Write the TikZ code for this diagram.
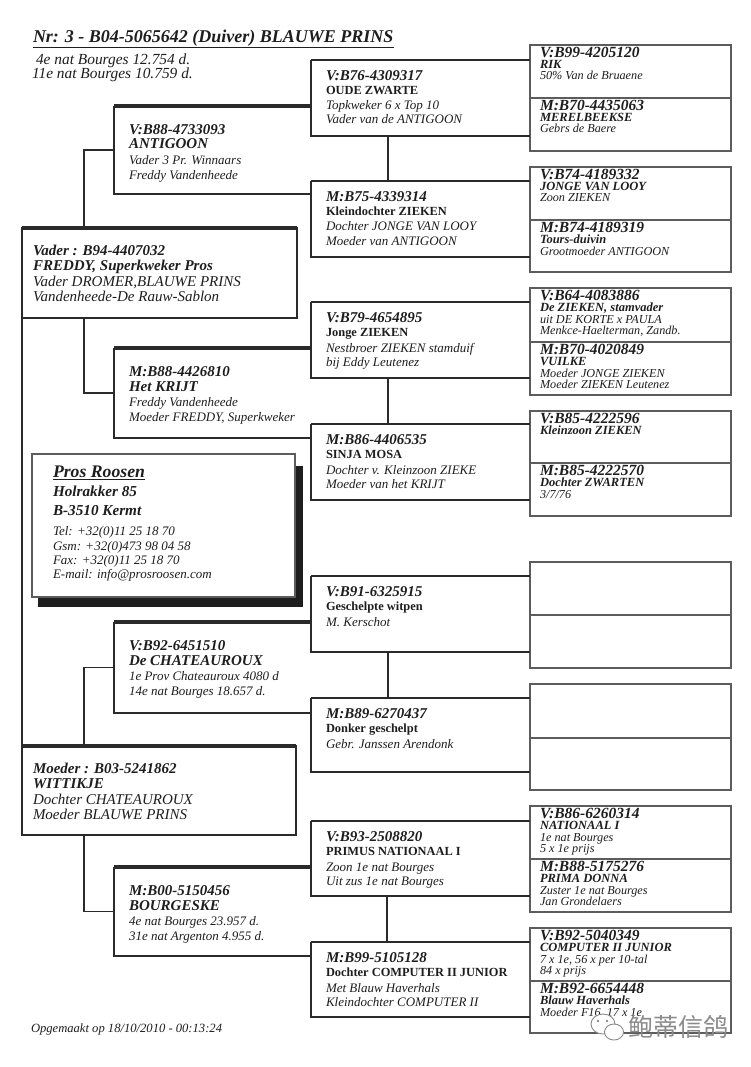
\documentclass[tikz,border=0pt]{standalone}
\usepackage{fontspec}
\setmainfont{Liberation Serif}
\newfontfamily\cjkfont{Noto Sans CJK SC}
\definecolor{ink}{HTML}{1E1E1E}
\definecolor{lineink}{HTML}{2A2A2A}
\definecolor{boxgray}{HTML}{5C5C5C}
\definecolor{wmgray}{HTML}{8A8A8A}
\newcommand\fsz[1]{\fontsize{#1}{#1}\selectfont}
\tikzset{
  every node/.style={inner sep=0pt, outer sep=0pt},
  txt/.style={anchor=base west, text=ink},
  fBI/.style={txt, font=\fsz{#1}\bfseries\itshape},
  fI/.style={txt, font=\fsz{#1}\itshape},
  fB/.style={txt, font=\fsz{#1}\bfseries},
  thinl/.style={draw=lineink, line width=1.2pt},
  gfour/.style={draw=boxgray, line width=1.1pt},
}
\newcommand\bx[6][]{\node[anchor=north west, minimum width=#5pt, minimum height=#6pt, #1] (#2) at (#3,#4) {};}
\newcommand\openbox[2]{\draw[thinl] (#1.north west) -- (#1.south west) -- (#1.south east);
  \draw[draw=lineink, line width=#2] (#1.north west) -- (#1.north east);}
\newcommand\T[5]{\node[#2] (#1) at ([shift={(#4)}]#3.north west) {#5};}
\newcommand\GenOne[5]{\T{#1-1}{fBI=15}{#1}{11,27.5}{#2}\T{#1-2}{fBI=15}{#1}{11,42.5}{#3}\T{#1-3}{fI=15}{#1}{11,58}{#4}\T{#1-4}{fI=15}{#1}{11,73.5}{#5}}
\newcommand\GenTwo[5]{\T{#1-1}{fBI=15}{#1}{15,28.5}{#2}\T{#1-2}{fBI=15}{#1}{15,43}{#3}\T{#1-3}{fI=13}{#1}{15,58.5}{#4}\T{#1-4}{fI=13}{#1}{15,73.5}{#5}}
\newcommand\GenThree[4]{\T{#1-1}{fBI=15}{#1}{15,20.5}{#2}\T{#1-2}{fB=12.4}{#1}{15,34.5}{#3}\T{#1-3}{fI=13}{#1}{15,50}{#4}}
\newcommand\GenThreeL[2]{\T{#1-4}{fI=13}{#1}{15,64}{#2}}
\newcommand\GenFour[3]{\T{#1-1}{fBI=15.5}{#1}{10,12.3}{#2}\T{#1-2}{fBI=12.5}{#1}{10,23.7}{#3}}
\newcommand\GenFourL[3]{\T{#1-#2}{fI=12.2}{#1}{10,\ifnum#2=3 35\else 46.5\fi}{#3}}

\begin{document}
\begin{tikzpicture}[x=1pt,y=-1pt]
\useasboundingbox[fill=white] (0,0) rectangle (750,1067);

% title
\node[fBI=18] (title) at (33,42.3) {\underline{Nr: 3 - B04-5065642 (Duiver) BLAUWE PRINS}};
\node[fI=15.4] (sub1) at (36,65) {4e nat Bourges 12.754 d.};
\node[fI=15.4] (sub2) at (32,79) {11e nat Bourges 10.759 d.};

% generation four boxes
\bx[gfour]{g4a}{530}{45}{201}{53}
\bx[gfour]{g4b}{530}{98}{201}{53}
\bx[gfour]{g4c}{530}{167}{201}{53}
\bx[gfour]{g4d}{530}{220}{201}{52}
\bx[gfour]{g4e}{530}{288}{201}{54}
\bx[gfour]{g4f}{530}{342}{201}{53}
\bx[gfour]{g4g}{530}{411}{201}{52}
\bx[gfour]{g4h}{530}{463}{201}{53}
\bx[gfour]{g4i}{530}{562}{201}{53}
\bx[gfour]{g4j}{530}{615}{201}{53}
\bx[gfour]{g4k}{530}{684}{201}{54}
\bx[gfour]{g4l}{530}{738}{201}{52}
\bx[gfour]{g4m}{530}{806}{201}{53}
\bx[gfour]{g4n}{530}{859}{201}{53}
\bx[gfour]{g4o}{530}{928}{201}{53}
\bx[gfour]{g4p}{530}{981}{201}{52}

% generation three boxes
\bx{vvv}{311}{60}{219}{76}
\bx{vvm}{311}{181}{219}{76}
\bx{vmv}{311}{302}{219}{76}
\bx{vmm}{311}{424}{219}{76}
\bx{mvv}{311}{576}{219}{76}
\bx{mvm}{311}{698}{219}{74}
\bx{mmv}{311}{821}{219}{75}
\bx{mmm}{311}{942}{219}{75}
\foreach \b in {vvv,vvm,vmv,vmm,mvv,mvm,mmv,mmm}{\openbox{\b}{2.4pt}}
\draw[thinl] ([xshift=77pt]vvv.south west) -- ([xshift=77pt]vvm.north west);
\draw[thinl] ([xshift=77pt]vmv.south west) -- ([xshift=77pt]vmm.north west);
\draw[thinl] ([xshift=77pt]mvv.south west) -- ([xshift=77pt]mvm.north west);
\draw[thinl] ([xshift=76pt]mmv.south west) -- ([xshift=76pt]mmm.north west);

% generation two boxes
\bx{vv}{114}{106}{197}{88}
\bx{vm}{114}{348}{197}{90}
\bx{mv}{114}{622}{197}{91}
\bx{mm}{114}{867}{197}{89}
\foreach \b in {vv,vm,mv,mm}{\openbox{\b}{3.2pt}}
\draw[thinl] (vv.west) -- ++(-30,0) |- (vm.west);
\draw[thinl] (mv.west) -- ++(-30,0) |- (mm.west);

% generation one boxes
\bx[fill=white, draw=lineink, line width=1.2pt]{v}{22}{228}{275}{90}
\draw[lineink, line width=3.8pt] (v.north west) -- (v.north east);
\bx[fill=white, draw=lineink, line width=1.2pt]{m}{22}{746}{274}{89}
\draw[lineink, line width=3.8pt] (m.north west) -- (m.north east);
\draw[thinl] (v.south west) -- (m.north west);

% breeder card
\bx{pr}{32}{454}{263}{143}
\fill[ink] ([shift={(6,12)}]pr.north west) rectangle ([shift={(8,10)}]pr.south east);
\draw[draw=boxgray, line width=1.1pt, fill=white] (pr.north west) rectangle (pr.south east);
\T{pr-1}{fBI=17.7}{pr}{21,23.3}{\underline{Pros Roosen}}
\T{pr-2}{fBI=15.2}{pr}{21,42.7}{Holrakker 85}
\T{pr-3}{fBI=15.2}{pr}{21,61.7}{B-3510 Kermt}
\T{pr-4}{fI=13}{pr}{21,81}{Tel: +32(0)11 25 18 70}
\T{pr-5}{fI=13}{pr}{21,96}{Gsm: +32(0)473 98 04 58}
\T{pr-6}{fI=13}{pr}{21,110}{Fax: +32(0)11 25 18 70}
\T{pr-7}{fI=13}{pr}{21,124.3}{E-mail: info@prosroosen.com}

% texts generation one
\GenOne{v}{Vader : B94-4407032}{FREDDY, Superkweker Pros}{Vader DROMER,BLAUWE PRINS}{Vandenheede-De Rauw-Sablon}
\GenOne{m}{Moeder : B03-5241862}{WITTIKJE}{Dochter CHATEAUROUX}{Moeder BLAUWE PRINS}

% texts generation two
\GenTwo{vv}{V:B88-4733093}{ANTIGOON}{Vader 3 Pr. Winnaars}{Freddy Vandenheede}
\GenTwo{vm}{M:B88-4426810}{Het KRIJT}{Freddy Vandenheede}{Moeder FREDDY, Superkweker}
\GenTwo{mv}{V:B92-6451510}{De CHATEAUROUX}{1e Prov Chateauroux 4080 d}{14e nat Bourges 18.657 d.}
\GenTwo{mm}{M:B00-5150456}{BOURGESKE}{4e nat Bourges 23.957 d.}{31e nat Argenton 4.955 d.}

% texts generation three
\GenThree{vvv}{V:B76-4309317}{OUDE ZWARTE}{Topkweker 6 x Top 10}\GenThreeL{vvv}{Vader van de ANTIGOON}
\GenThree{vvm}{M:B75-4339314}{Kleindochter ZIEKEN}{Dochter JONGE VAN LOOY}\GenThreeL{vvm}{Moeder van ANTIGOON}
\GenThree{vmv}{V:B79-4654895}{Jonge ZIEKEN}{Nestbroer ZIEKEN stamduif}\GenThreeL{vmv}{bij Eddy Leutenez}
\GenThree{vmm}{M:B86-4406535}{SINJA MOSA}{Dochter v. Kleinzoon ZIEKE}\GenThreeL{vmm}{Moeder van het KRIJT}
\GenThree{mvv}{V:B91-6325915}{Geschelpte witpen}{M. Kerschot}
\GenThree{mvm}{M:B89-6270437}{Donker geschelpt}{Gebr. Janssen Arendonk}
\GenThree{mmv}{V:B93-2508820}{PRIMUS NATIONAAL I}{Zoon 1e nat Bourges}\GenThreeL{mmv}{Uit zus 1e nat Bourges}
\GenThree{mmm}{M:B99-5105128}{Dochter COMPUTER II JUNIOR}{Met Blauw Haverhals}\GenThreeL{mmm}{Kleindochter COMPUTER II}

% texts generation four
\GenFour{g4a}{V:B99-4205120}{RIK}\GenFourL{g4a}{3}{50\% Van de Bruaene}
\GenFour{g4b}{M:B70-4435063}{MERELBEEKSE}\GenFourL{g4b}{3}{Gebrs de Baere}
\GenFour{g4c}{V:B74-4189332}{JONGE VAN LOOY}\GenFourL{g4c}{3}{Zoon ZIEKEN}
\GenFour{g4d}{M:B74-4189319}{Tours-duivin}\GenFourL{g4d}{3}{Grootmoeder ANTIGOON}
\GenFour{g4e}{V:B64-4083886}{De ZIEKEN, stamvader}\GenFourL{g4e}{3}{uit DE KORTE x PAULA}\GenFourL{g4e}{4}{Menkce-Haelterman, Zandb.}
\GenFour{g4f}{M:B70-4020849}{VUILKE}\GenFourL{g4f}{3}{Moeder JONGE ZIEKEN}\GenFourL{g4f}{4}{Moeder ZIEKEN Leutenez}
\GenFour{g4g}{V:B85-4222596}{Kleinzoon ZIEKEN}
\GenFour{g4h}{M:B85-4222570}{Dochter ZWARTEN}\GenFourL{g4h}{3}{3/7/76}
\GenFour{g4m}{V:B86-6260314}{NATIONAAL I}\GenFourL{g4m}{3}{1e nat Bourges}\GenFourL{g4m}{4}{5 x 1e prijs}
\GenFour{g4n}{M:B88-5175276}{PRIMA DONNA}\GenFourL{g4n}{3}{Zuster 1e nat Bourges}\GenFourL{g4n}{4}{Jan Grondelaers}
\GenFour{g4o}{V:B92-5040349}{COMPUTER II JUNIOR}\GenFourL{g4o}{3}{7 x 1e, 56 x per 10-tal}\GenFourL{g4o}{4}{84 x prijs}
\GenFour{g4p}{M:B92-6654448}{Blauw Haverhals}\GenFourL{g4p}{3}{Moeder F16, 17 x 1e}

% footer
\node[fI=12.6] (foot) at (31,1032) {Opgemaakt op 18/10/2010 - 00:13:24};

% watermark
\draw[wmgray, line width=0.9pt, fill=white] (603,1024) ellipse [x radius=12, y radius=10];
\draw[wmgray, line width=0.9pt, fill=white] (614,1032) ellipse [x radius=9.5, y radius=8];
\fill[wmgray] (598,1021) circle [radius=1.3] (607,1021) circle [radius=1.3];
\node[anchor=west, text=wmgray, font=\cjkfont\fsz{25}] (wm) at (628,1027) {鲍蒂信鸽};
\end{tikzpicture}
\end{document}
